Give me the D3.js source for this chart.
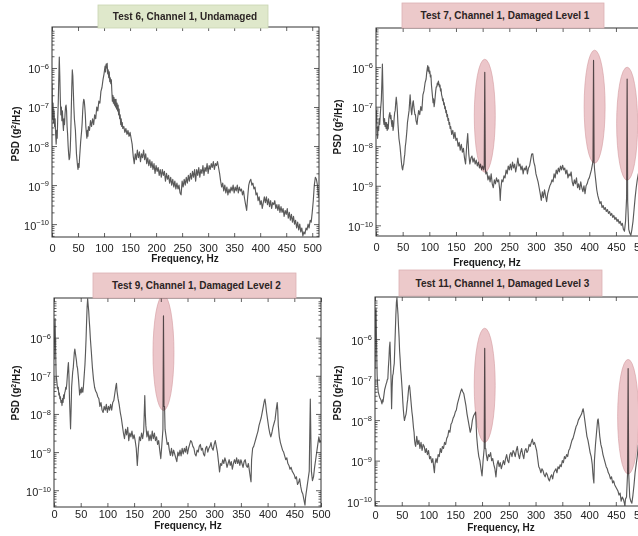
<!DOCTYPE html>
<html>
<head>
<meta charset="utf-8">
<script src="https://cdn.jsdelivr.net/npm/d3@7"></script>
<style>
  body { margin: 0; background: #fff; }
  svg { display: block; font-family: "Liberation Sans", Arial, Helvetica, sans-serif; }
</style>
</head>
<body>
<div id="chart"></div>
<script>
// tick values shared by all four panels
const freqTicks = [0, 50, 100, 150, 200, 250, 300, 350, 400, 450, 500];
const decadeTicks = [-10, -9, -8, -7, -6];

// spectra: [frequency Hz, log10 PSD (g^2/Hz)]
const test6 = [[0,-6.4],[1,-7.3],[2,-6.9],[3,-7.4],[4,-7.1],[5,-7.5],[6,-7.3],[7,-7.7],[8,-7.95],[9,-7.6],[10,-7.8],[11,-7.3],[12,-6.9],[13,-6.3],[14,-5.72],[15,-6.2],[16,-6.8],[17,-7.2],[18,-7.0],[19,-7.35],[20,-7.1],[21,-7.4],[22,-7.6],[23,-7.3],[24,-7.45],[25,-7.2],[26,-7.0],[27,-6.95],[28,-7.1],[29,-7.5],[30,-7.7],[31,-8.0],[32,-8.2],[33,-8.35],[34,-8.3],[35,-8.1],[36,-7.7],[37,-7.1],[38,-6.5],[39,-6.05],[40,-6.2],[41,-6.6],[42,-7.0],[43,-7.3],[44,-7.45],[45,-7.6],[46,-7.9],[47,-8.2],[48,-8.35],[49,-8.5],[50,-8.6],[51,-8.45],[52,-8.55],[53,-8.3],[54,-8.1],[55,-7.9],[56,-7.75],[57,-7.6],[58,-7.4],[59,-7.1],[60,-6.9],[61,-6.8],[62,-6.85],[63,-7.0],[64,-7.2],[65,-7.5],[66,-7.65],[67,-7.8],[68,-7.6],[69,-7.75],[70,-7.5],[72,-7.6],[74,-7.35],[76,-7.5],[78,-7.3],[80,-7.45],[82,-7.2],[84,-7.3],[86,-7.0],[88,-7.1],[90,-6.85],[92,-6.9],[94,-6.6],[96,-6.5],[98,-6.3],[100,-6.15],[101,-6.05],[102,-5.95],[103,-6.1],[104,-5.9],[105,-6.0],[106,-5.88],[107,-6.15],[108,-6.05],[109,-6.25],[110,-6.1],[111,-6.35],[112,-6.25],[113,-6.4],[114,-6.3],[115,-6.6],[116,-6.85],[117,-6.7],[118,-6.9],[119,-6.75],[120,-6.95],[121,-6.8],[122,-7.0],[123,-6.8],[124,-7.05],[125,-6.9],[126,-7.1],[127,-6.95],[128,-7.2],[129,-7.05],[130,-7.3],[131,-7.2],[132,-7.45],[133,-7.3],[134,-7.5],[135,-7.4],[136,-7.55],[138,-7.5],[140,-7.65],[142,-7.55],[144,-7.7],[146,-7.6],[148,-7.75],[150,-7.65],[152,-7.8],[154,-7.95],[156,-8.25],[158,-8.45],[160,-8.2],[162,-8.35],[164,-8.1],[166,-8.3],[168,-8.15],[170,-8.4],[172,-8.2],[174,-8.3],[176,-8.1],[178,-8.35],[180,-8.2],[182,-8.45],[184,-8.3],[186,-8.5],[188,-8.35],[190,-8.55],[192,-8.4],[194,-8.6],[196,-8.45],[198,-8.7],[200,-8.5],[202,-8.65],[204,-8.55],[206,-8.75],[208,-8.6],[210,-8.8],[212,-8.6],[214,-8.75],[216,-8.65],[218,-8.9],[220,-8.7],[222,-8.85],[224,-8.75],[226,-8.95],[228,-8.8],[230,-9.0],[232,-8.85],[234,-9.05],[236,-8.9],[238,-9.1],[240,-8.95],[242,-9.1],[244,-9.0],[246,-9.2],[248,-9.25],[250,-8.9],[252,-9.05],[254,-8.85],[256,-9.0],[258,-8.8],[260,-8.95],[262,-8.75],[264,-8.9],[266,-8.7],[268,-8.85],[270,-8.65],[272,-8.8],[274,-8.6],[276,-8.9],[278,-8.6],[280,-8.75],[282,-8.55],[284,-8.8],[286,-8.6],[288,-8.7],[290,-8.5],[292,-8.75],[294,-8.55],[296,-8.65],[298,-8.45],[300,-8.7],[302,-8.5],[304,-8.6],[306,-8.45],[308,-8.55],[310,-8.4],[312,-8.6],[314,-8.45],[316,-8.5],[318,-8.4],[320,-8.55],[322,-8.7],[324,-8.9],[326,-9.05],[328,-8.95],[330,-9.15],[332,-9.0],[334,-9.2],[336,-9.05],[338,-9.25],[340,-9.1],[342,-9.2],[344,-9.05],[346,-9.15],[348,-9.0],[350,-9.2],[352,-9.05],[354,-9.15],[356,-9.0],[358,-9.2],[360,-9.05],[362,-9.15],[364,-9.1],[366,-9.25],[368,-9.15],[370,-9.35],[372,-9.5],[374,-9.65],[376,-9.3],[378,-9.0],[380,-8.9],[382,-8.85],[384,-9.0],[386,-8.95],[388,-9.1],[390,-9.05],[392,-9.25],[394,-9.2],[396,-9.4],[398,-9.3],[400,-9.5],[402,-9.4],[404,-9.6],[406,-9.45],[408,-9.3],[410,-9.45],[412,-9.3],[414,-9.5],[416,-9.35],[418,-9.55],[420,-9.4],[422,-9.6],[424,-9.45],[426,-9.5],[428,-9.4],[430,-9.6],[432,-9.5],[434,-9.65],[436,-9.5],[438,-9.7],[440,-9.55],[442,-9.7],[444,-9.6],[446,-9.8],[448,-9.65],[450,-9.75],[452,-9.6],[454,-9.85],[456,-9.7],[458,-9.9],[460,-9.75],[462,-9.95],[464,-9.8],[466,-10.0],[468,-9.9],[470,-10.1],[472,-9.95],[474,-10.15],[476,-10.0],[478,-10.2],[480,-10.1],[482,-10.3],[484,-10.2],[486,-10.25],[488,-10.1],[490,-10.15],[492,-10.0],[494,-10.1],[496,-9.9],[498,-9.95],[500,-9.7],[502,-9.4],[504,-9.0],[506,-8.8],[508,-8.85],[510,-9.0],[512,-9.3]];

const test7 = [[0,-7.4],[1,-7.1],[2,-7.6],[3,-7.8],[4,-7.5],[5,-7.6],[6,-7.3],[7,-7.45],[8,-7.2],[9,-7.0],[10,-6.84],[11,-6.4],[12,-5.92],[13,-6.6],[14,-7.35],[15,-7.45],[16,-7.3],[17,-7.5],[18,-7.4],[19,-7.55],[20,-7.4],[21,-7.6],[22,-7.45],[23,-7.56],[24,-7.3],[25,-7.2],[26,-7.15],[27,-7.3],[28,-7.22],[29,-7.4],[30,-7.5],[31,-7.35],[32,-7.6],[33,-7.5],[34,-7.3],[35,-7.15],[36,-7.1],[37,-6.9],[38,-6.76],[39,-6.9],[40,-7.1],[41,-7.4],[42,-7.6],[43,-7.8],[44,-7.9],[45,-8.0],[46,-8.15],[47,-8.3],[48,-8.45],[49,-8.55],[50,-8.6],[51,-8.5],[52,-8.45],[53,-8.3],[54,-8.2],[55,-8.0],[56,-7.9],[57,-7.75],[58,-7.6],[59,-7.4],[60,-7.3],[61,-7.2],[62,-7.1],[63,-6.9],[64,-6.7],[65,-6.9],[66,-7.1],[67,-7.2],[68,-7.05],[69,-6.9],[70,-6.85],[71,-7.0],[72,-7.1],[73,-7.2],[74,-7.2],[75,-7.35],[76,-7.4],[77,-7.45],[78,-7.3],[79,-7.2],[80,-7.1],[82,-7.2],[84,-7.0],[86,-7.1],[88,-6.7],[90,-6.6],[92,-6.4],[94,-6.3],[95,-6.15],[96,-6.05],[97,-5.96],[98,-6.1],[99,-6.0],[100,-6.15],[101,-6.1],[102,-6.25],[103,-6.2],[104,-6.45],[105,-6.6],[106,-6.75],[107,-6.9],[108,-6.8],[109,-7.0],[110,-6.9],[111,-6.75],[112,-6.6],[113,-6.5],[114,-6.5],[115,-6.4],[116,-6.45],[117,-6.35],[118,-6.42],[119,-6.5],[120,-6.45],[121,-6.6],[122,-6.55],[123,-6.7],[124,-6.75],[125,-6.85],[126,-6.8],[127,-6.95],[128,-6.9],[129,-7.05],[130,-7.0],[131,-7.15],[132,-7.1],[133,-7.25],[134,-7.2],[135,-7.35],[136,-7.3],[137,-7.45],[138,-7.4],[139,-7.55],[140,-7.5],[142,-7.7],[144,-7.6],[146,-7.8],[148,-7.65],[150,-7.85],[152,-7.8],[154,-8.0],[156,-7.9],[158,-8.1],[160,-7.95],[162,-8.15],[164,-8.05],[166,-8.3],[168,-8.45],[170,-8.0],[172,-7.68],[174,-8.2],[176,-8.45],[178,-8.3],[180,-8.25],[182,-8.4],[184,-8.3],[186,-8.45],[188,-8.35],[190,-8.5],[192,-8.4],[194,-8.55],[196,-8.45],[198,-8.6],[200,-8.5],[202,-8.6],[203,-8.5],[204,-6.13],[205,-8.55],[206,-8.7],[208,-8.65],[210,-8.85],[212,-8.75],[214,-8.9],[216,-8.7],[218,-8.95],[220,-9.05],[222,-8.85],[224,-8.95],[226,-8.8],[228,-8.9],[230,-8.85],[232,-9.1],[233,-9.37],[234,-9.1],[236,-8.85],[238,-8.9],[240,-8.75],[242,-8.8],[244,-8.6],[246,-8.7],[248,-8.5],[250,-8.6],[252,-8.45],[254,-8.6],[256,-8.4],[258,-8.55],[260,-8.45],[262,-8.65],[264,-8.5],[266,-8.3],[268,-8.5],[270,-8.45],[272,-8.6],[274,-8.5],[276,-8.7],[278,-8.55],[280,-8.6],[282,-8.5],[284,-8.7],[286,-8.55],[288,-8.5],[290,-8.35],[292,-8.2],[294,-8.19],[296,-8.4],[298,-8.5],[300,-8.7],[302,-8.8],[304,-8.9],[306,-9.05],[308,-9.2],[310,-9.37],[312,-9.15],[314,-9.3],[316,-9.1],[318,-9.25],[320,-9.4],[322,-9.2],[324,-9.1],[326,-9.0],[328,-8.95],[330,-8.85],[332,-8.9],[334,-8.7],[336,-8.8],[338,-8.6],[340,-8.7],[342,-8.55],[344,-8.65],[346,-8.5],[348,-8.6],[350,-8.48],[352,-8.6],[354,-8.55],[356,-8.7],[358,-8.6],[360,-8.8],[362,-8.7],[364,-8.75],[366,-8.65],[368,-8.9],[370,-9.0],[372,-8.85],[374,-8.95],[376,-8.8],[378,-9.05],[380,-8.95],[382,-9.1],[384,-8.9],[386,-9.05],[388,-9.15],[390,-9.0],[392,-9.2],[394,-9.0],[396,-8.95],[398,-8.85],[400,-8.8],[402,-8.7],[404,-8.6],[406,-8.45],[407,-8.35],[408,-5.83],[409,-8.4],[410,-8.6],[412,-8.85],[414,-9.1],[416,-9.25],[418,-9.35],[420,-9.45],[422,-9.4],[424,-9.55],[426,-9.5],[428,-9.6],[430,-9.55],[432,-9.65],[434,-9.6],[436,-9.7],[438,-9.65],[440,-9.75],[442,-9.7],[444,-9.8],[446,-9.75],[448,-9.85],[450,-9.8],[452,-9.9],[454,-9.85],[456,-9.95],[458,-9.9],[460,-10.0],[462,-9.95],[464,-10.1],[466,-10.15],[468,-9.9],[470,-9.3],[471,-6.3],[472,-9.4],[474,-10.1],[476,-10.2],[478,-10.25],[480,-10.1],[482,-9.9],[484,-9.6],[486,-9.3],[488,-9.05],[490,-8.85],[492,-8.7],[494,-8.6]];

const test9 = [[0,-6.57],[1,-5.85],[2,-5.5],[3,-6.3],[4,-7.0],[5,-7.1],[6,-7.25],[7,-7.35],[8,-7.3],[9,-7.5],[10,-7.45],[11,-7.6],[12,-7.55],[13,-7.7],[14,-7.65],[15,-7.78],[16,-7.6],[17,-7.7],[18,-7.5],[19,-7.6],[20,-7.45],[21,-7.4],[22,-7.3],[23,-7.35],[24,-7.2],[25,-7.0],[26,-6.8],[27,-6.65],[28,-7.0],[29,-7.6],[30,-8.0],[31,-8.39],[32,-7.9],[33,-7.3],[34,-7.1],[35,-6.9],[36,-6.8],[37,-6.6],[38,-6.4],[39,-6.3],[40,-6.4],[41,-6.5],[42,-6.6],[43,-6.75],[44,-6.8],[45,-6.95],[46,-7.1],[47,-7.3],[48,-7.5],[49,-7.4],[50,-7.35],[51,-7.45],[52,-7.3],[53,-7.4],[54,-7.43],[55,-7.3],[56,-7.1],[57,-6.9],[58,-6.7],[59,-6.4],[60,-6.05],[61,-5.6],[62,-5.2],[63,-4.98],[64,-5.15],[65,-5.3],[66,-5.55],[67,-5.75],[68,-6.0],[69,-6.2],[70,-6.39],[71,-6.6],[72,-6.8],[73,-6.95],[74,-7.1],[75,-7.2],[76,-7.3],[78,-7.4],[80,-7.45],[82,-7.55],[84,-7.6],[86,-7.8],[88,-7.7],[90,-7.9],[92,-7.96],[94,-7.8],[96,-7.9],[98,-7.75],[100,-7.96],[102,-7.8],[104,-7.9],[106,-7.75],[108,-7.9],[110,-7.7],[112,-7.65],[114,-7.45],[116,-7.26],[117,-7.2],[118,-7.4],[120,-7.6],[122,-7.75],[124,-7.95],[126,-8.1],[128,-8.3],[130,-8.5],[132,-8.65],[134,-8.4],[136,-8.55],[138,-8.35],[140,-8.7],[142,-8.5],[144,-8.6],[146,-8.45],[148,-8.65],[150,-8.55],[152,-8.7],[154,-8.9],[156,-9.35],[158,-8.9],[160,-8.6],[162,-8.7],[164,-8.5],[166,-8.65],[168,-8.45],[169,-8.0],[170,-7.52],[171,-8.0],[172,-8.3],[174,-8.6],[176,-8.45],[178,-8.7],[180,-8.55],[182,-8.7],[184,-8.45],[186,-8.65],[188,-8.5],[190,-8.7],[192,-8.6],[194,-8.8],[196,-8.7],[198,-8.95],[200,-9.17],[202,-8.8],[204,-8.4],[205,-5.43],[206,-7.8],[207,-7.8],[208,-8.4],[210,-8.6],[212,-8.8],[214,-8.75],[216,-8.95],[218,-9.09],[220,-8.9],[222,-9.1],[224,-8.95],[226,-9.05],[228,-9.15],[230,-9.25],[232,-9.0],[234,-9.1],[236,-8.95],[238,-9.1],[240,-8.9],[242,-9.05],[244,-8.9],[246,-9.0],[248,-8.85],[250,-9.05],[252,-8.9],[254,-8.8],[256,-8.7],[258,-8.74],[260,-8.85],[262,-8.9],[264,-9.05],[266,-9.1],[268,-8.95],[270,-9.0],[272,-8.85],[274,-8.8],[276,-8.95],[278,-8.9],[280,-9.05],[282,-9.1],[284,-8.9],[286,-8.85],[288,-9.0],[290,-8.9],[292,-8.85],[294,-8.75],[296,-8.9],[298,-8.95],[300,-8.8],[302,-8.7],[304,-8.85],[306,-9.0],[308,-9.25],[310,-9.52],[312,-9.3],[314,-9.35],[316,-9.2],[318,-9.3],[320,-9.15],[322,-9.25],[324,-9.4],[326,-9.3],[328,-9.2],[330,-9.35],[332,-9.25],[334,-9.45],[336,-9.3],[338,-9.2],[340,-9.3],[342,-9.15],[344,-9.3],[346,-9.2],[348,-9.35],[350,-9.2],[352,-9.3],[354,-9.4],[356,-9.25],[358,-9.2],[360,-9.35],[362,-9.4],[364,-9.3],[366,-9.5],[368,-9.7],[369,-9.78],[370,-9.2],[372,-8.9],[374,-8.85],[376,-8.75],[378,-8.65],[380,-8.55],[382,-8.45],[384,-8.3],[386,-8.2],[388,-8.1],[390,-7.95],[392,-7.8],[394,-7.65],[395,-7.61],[396,-7.7],[398,-7.95],[400,-8.15],[402,-8.35],[404,-8.5],[406,-8.6],[408,-8.5],[410,-8.35],[412,-8.25],[414,-8.15],[416,-7.9],[418,-7.7],[419,-7.9],[420,-8.3],[422,-8.6],[424,-8.75],[426,-8.85],[428,-8.95],[430,-9.0],[432,-9.1],[434,-9.2],[436,-9.15],[438,-9.3],[440,-9.35],[442,-9.45],[444,-9.4],[446,-9.5],[448,-9.55],[450,-9.6],[452,-9.7],[454,-9.65],[456,-9.85],[458,-9.8],[460,-9.7],[462,-9.9],[464,-10.04],[466,-10.1],[468,-10.25],[470,-10.39],[471,-10.2],[472,-10.1],[474,-9.9],[476,-9.7],[478,-9.5],[479,-8.5],[480,-7.61],[481,-8.6],[482,-9.5],[484,-9.75],[486,-9.65],[488,-9.4],[490,-9.2],[492,-9.0],[494,-8.8],[496,-8.6],[498,-8.75],[500,-8.7]];

const test11 = [[0,-6.73],[1,-5.3],[2,-5.25],[3,-6.2],[4,-6.9],[5,-7.14],[6,-7.3],[7,-7.35],[8,-7.4],[9,-7.45],[10,-7.47],[11,-7.5],[12,-7.55],[13,-7.6],[14,-7.5],[15,-7.55],[16,-7.45],[17,-7.35],[18,-7.25],[19,-7.2],[20,-7.15],[21,-7.1],[22,-7.06],[23,-7.0],[24,-6.98],[25,-6.7],[26,-6.5],[27,-6.2],[28,-6.07],[29,-6.5],[30,-7.0],[31,-7.72],[32,-7.2],[33,-6.9],[34,-6.85],[35,-6.7],[36,-6.6],[37,-6.2],[38,-5.8],[39,-5.4],[40,-5.1],[41,-4.98],[42,-5.2],[43,-5.4],[44,-5.7],[45,-5.95],[46,-6.3],[47,-6.5],[48,-6.75],[49,-6.9],[50,-7.1],[51,-7.3],[52,-7.55],[53,-7.75],[54,-7.9],[55,-8.01],[56,-7.95],[57,-7.9],[58,-7.85],[59,-7.75],[60,-7.6],[61,-7.5],[62,-7.35],[63,-7.2],[64,-7.14],[65,-7.2],[66,-7.35],[67,-7.5],[68,-7.65],[69,-7.8],[70,-7.9],[71,-8.05],[72,-8.2],[73,-8.3],[74,-8.5],[75,-8.6],[76,-8.65],[78,-8.4],[80,-8.6],[82,-8.5],[84,-8.7],[86,-8.55],[88,-8.75],[90,-8.6],[92,-8.65],[94,-8.8],[96,-8.7],[98,-8.85],[100,-8.75],[102,-8.95],[104,-8.9],[106,-9.05],[108,-8.95],[110,-9.2],[111,-9.3],[112,-9.1],[114,-8.95],[116,-9.05],[118,-8.85],[120,-8.9],[122,-8.7],[124,-8.8],[126,-8.65],[128,-8.7],[130,-8.55],[132,-8.6],[134,-8.45],[136,-8.4],[138,-8.25],[140,-8.3],[142,-8.1],[144,-8.05],[146,-7.95],[148,-7.9],[150,-7.8],[152,-7.75],[154,-7.6],[156,-7.5],[158,-7.4],[160,-7.3],[162,-7.23],[164,-7.3],[166,-7.35],[168,-7.5],[170,-7.65],[172,-7.85],[174,-8.0],[176,-8.15],[178,-8.3],[180,-8.2],[182,-8.0],[184,-7.9],[186,-7.85],[188,-7.8],[190,-8.4],[192,-8.7],[194,-8.9],[196,-9.0],[198,-9.2],[200,-9.38],[202,-9.0],[204,-8.7],[205,-6.23],[206,-8.7],[207,-8.7],[208,-8.85],[210,-9.0],[212,-8.85],[214,-8.9],[216,-8.8],[218,-9.0],[220,-8.95],[222,-9.1],[224,-9.2],[226,-9.4],[228,-9.1],[230,-9.0],[232,-9.15],[234,-9.05],[236,-9.2],[238,-9.1],[240,-9.0],[242,-9.1],[244,-8.95],[246,-8.85],[248,-9.0],[250,-9.05],[252,-8.85],[254,-8.8],[256,-8.9],[258,-8.75],[260,-8.8],[262,-8.9],[264,-8.75],[266,-8.65],[268,-8.85],[270,-8.95],[272,-8.8],[274,-8.7],[276,-8.85],[278,-8.95],[280,-8.75],[282,-8.7],[284,-8.8],[286,-8.75],[288,-8.6],[290,-8.65],[292,-8.55],[294,-8.47],[296,-8.6],[298,-8.55],[300,-8.65],[302,-8.75],[304,-8.95],[306,-9.15],[308,-9.2],[310,-9.3],[312,-9.2],[314,-9.25],[316,-9.35],[318,-9.4],[320,-9.3],[322,-9.35],[324,-9.45],[326,-9.5],[328,-9.4],[330,-9.35],[332,-9.45],[334,-9.3],[336,-9.25],[338,-9.2],[340,-9.3],[342,-9.15],[344,-9.2],[346,-9.1],[348,-9.15],[350,-9.0],[352,-9.05],[354,-8.9],[356,-8.95],[358,-8.85],[360,-8.9],[362,-8.75],[364,-8.7],[366,-8.6],[368,-8.5],[370,-8.45],[372,-8.35],[374,-8.25],[376,-8.15],[378,-8.1],[380,-8.0],[382,-7.95],[384,-7.9],[386,-7.85],[388,-7.75],[389,-7.72],[390,-7.8],[392,-8.0],[394,-8.2],[396,-8.4],[398,-8.5],[400,-8.65],[402,-8.8],[404,-8.9],[406,-9.1],[407,-9.3],[408,-9.45],[409,-9.55],[410,-9.0],[412,-8.6],[414,-8.3],[416,-8.0],[417,-7.97],[418,-8.1],[420,-8.4],[422,-8.6],[424,-8.7],[426,-8.85],[428,-8.95],[430,-9.05],[432,-9.15],[434,-9.2],[436,-9.3],[438,-9.35],[440,-9.45],[442,-9.4],[444,-9.55],[446,-9.5],[448,-9.6],[450,-9.65],[452,-9.7],[454,-9.75],[456,-9.85],[458,-9.8],[460,-10.0],[462,-9.9],[464,-9.95],[466,-10.05],[467,-10.12],[468,-9.95],[470,-9.9],[472,-9.3],[473,-6.73],[474,-9.3],[476,-9.9],[478,-10.0],[480,-10.05],[482,-9.85],[484,-9.6],[486,-9.3],[488,-9.1],[490,-8.9],[492,-8.63],[494,-8.5]];

// highlighted damage peaks: centre frequency and log10 extent of each ellipse
const test7Marks = [{ f: 204, top: -5.8, bottom: -8.66 }, { f: 410, top: -5.57, bottom: -8.43 }, { f: 471, top: -6.0, bottom: -8.86 }];
const test9Marks = [{ f: 205, top: -4.88, bottom: -7.91 }];
const test11Marks = [{ f: 205, top: -5.73, bottom: -8.55 }, { f: 473, top: -6.5, bottom: -9.33 }];

const titles = ["Test 6, Channel 1, Undamaged", "Test 7, Channel 1, Damaged Level 1", "Test 9, Channel 1, Damaged Level 2", "Test 11, Channel 1, Damaged Level 3"];

const green = { fill: "#dfe8cb", stroke: "#c8d5b1" };
const pink = { fill: "#ecc9ca", stroke: "#dcb1b3" };

// layout of each sub-plot (pixels); the two right-hand plots run off the page edge
const panels = [
    { title: titles[0], data: test6, marks: [], color: green,
      frame: { x: 52, y: 27, w: 267, h: 210 }, xMax: 513, yLog: [-10.33, -4.95], tickPad: 7,
      box: { x: 98, y: 5, w: 170, h: 23 }, xLabel: [185, 262], yLabel: [19, 134] },
    { title: titles[1], data: test7, marks: test7Marks, color: pink,
      frame: { x: 376, y: 28, w: 273, h: 208 }, xMax: 512, yLog: [-10.27, -5.01], tickPad: 7,
      box: { x: 402, y: 3, w: 202, h: 25 }, xLabel: [487, 266], yLabel: [341, 127] },
    { title: titles[2], data: test9, marks: test9Marks, color: pink,
      frame: { x: 54, y: 298, w: 267, h: 209 }, xMax: 500, yLog: [-10.44, -4.96], tickPad: 3,
      box: { x: 93, y: 273, w: 203, h: 25 }, xLabel: [188, 529], yLabel: [19, 393] },
    { title: titles[3], data: test11, marks: test11Marks, color: pink,
      frame: { x: 375, y: 297, w: 274, h: 209 }, xMax: 512, yLog: [-10.12, -4.96], tickPad: 5,
      box: { x: 399, y: 270, w: 203, h: 26 }, xLabel: [501, 531], yLabel: [341, 393] }
];

const svg = d3.select("#chart").append("svg")
    .attr("width", 638)
    .attr("height", 536);

function minorTicks(lo, hi) {
    const out = [];
    for (let d = Math.floor(lo); d <= Math.ceil(hi); d++) {
        for (let k = 2; k <= 9; k++) {
            const v = Math.log10(k) + d;
            if (v > lo && v < hi) out.push(Math.pow(10, v));
        }
    }
    return out;
}

panels.forEach((p, i) => {
    const f = p.frame;
    const x = d3.scaleLinear().domain([0, p.xMax]).range([f.x, f.x + f.w]);
    const y = d3.scaleLog()
        .domain([Math.pow(10, p.yLog[0]), Math.pow(10, p.yLog[1])])
        .range([f.y + f.h, f.y]);

    const g = svg.append("g");

    svg.append("clipPath").attr("id", "clip" + i)
        .append("rect").attr("x", f.x).attr("y", f.y).attr("width", f.w).attr("height", f.h);

    const line = d3.line()
        .x(d => x(d[0]))
        .y(d => y(Math.pow(10, d[1])));

    g.append("path")
        .datum(p.data)
        .attr("d", line)
        .attr("fill", "none")
        .attr("stroke", "#5a5a5a")
        .attr("stroke-width", 1.15)
        .attr("stroke-linejoin", "round")
        .attr("clip-path", `url(#clip${i})`);

    // axes: inward ticks on all four sides, MATLAB style
    const decades = decadeTicks.map(e => Math.pow(10, e));
    const minors = minorTicks(p.yLog[0], p.yLog[1]);

    const xb = g.append("g")
        .attr("transform", `translate(0,${f.y + f.h})`)
        .call(d3.axisBottom(x).tickValues(freqTicks).tickSize(-4).tickPadding(p.tickPad));
    g.append("g")
        .attr("transform", `translate(0,${f.y})`)
        .call(d3.axisTop(x).tickValues(freqTicks).tickSize(-4).tickFormat(""));

    const yl = g.append("g")
        .attr("transform", `translate(${f.x},0)`)
        .call(d3.axisLeft(y).tickValues(decades).tickSize(-5).tickPadding(3).tickFormat(""));
    g.append("g")
        .attr("transform", `translate(${f.x},0)`)
        .call(d3.axisLeft(y).tickValues(minors).tickSize(-2.5).tickFormat(""));
    g.append("g")
        .attr("transform", `translate(${f.x + f.w},0)`)
        .call(d3.axisRight(y).tickValues(decades).tickSize(-5).tickFormat(""));
    g.append("g")
        .attr("transform", `translate(${f.x + f.w},0)`)
        .call(d3.axisRight(y).tickValues(minors).tickSize(-2.5).tickFormat(""));

    g.selectAll(".domain").remove();
    g.selectAll(".tick line").attr("stroke", "#3a3a3a").attr("stroke-width", 0.8);

    xb.selectAll(".tick text")
        .attr("font-size", 11)
        .attr("fill", "#222")
        .attr("font-family", null);

    yl.selectAll(".tick text")
        .attr("font-size", 11)
        .attr("fill", "#222")
        .attr("font-family", null)
        .attr("dy", "0.45em")
        .each(function (d) {
            const t = d3.select(this);
            t.append("tspan").text("10");
            t.append("tspan")
                .attr("dy", "-0.55em")
                .attr("font-size", 7.5)
                .text("\u2212" + Math.round(-Math.log10(d)));
        });

    g.append("rect")
        .attr("x", f.x).attr("y", f.y).attr("width", f.w).attr("height", f.h)
        .attr("fill", "none")
        .attr("stroke", "#333")
        .attr("stroke-width", 1);

    // highlighted peaks
    g.selectAll("ellipse")
        .data(p.marks)
        .join("ellipse")
        .attr("cx", d => x(d.f))
        .attr("cy", d => (y(Math.pow(10, d.top)) + y(Math.pow(10, d.bottom))) / 2)
        .attr("rx", 10.5)
        .attr("ry", d => (y(Math.pow(10, d.bottom)) - y(Math.pow(10, d.top))) / 2)
        .attr("fill", "#d98d95")
        .attr("fill-opacity", 0.5)
        .attr("stroke", "#d49aa0")
        .attr("stroke-width", 0.6)
        .style("mix-blend-mode", "multiply");

    // labels
    g.append("text")
        .attr("x", p.xLabel[0]).attr("y", p.xLabel[1])
        .attr("text-anchor", "middle")
        .attr("font-size", 10)
        .attr("font-weight", "bold")
        .attr("fill", "#1a1a1a")
        .text("Frequency, Hz");

    const yt = g.append("text")
        .attr("transform", `translate(${p.yLabel[0]},${p.yLabel[1]}) rotate(-90)`)
        .attr("text-anchor", "middle")
        .attr("font-size", 10)
        .attr("font-weight", "bold")
        .attr("fill", "#1a1a1a");
    yt.append("tspan").text("PSD (g");
    yt.append("tspan").attr("dy", "-0.4em").attr("font-size", 7).text("2");
    yt.append("tspan").attr("dy", "0.4em").text("/Hz)");

    // title box
    const b = p.box;
    svg.append("rect")
        .attr("x", b.x).attr("y", b.y).attr("width", b.w).attr("height", b.h)
        .attr("fill", p.color.fill)
        .attr("stroke", p.color.stroke)
        .attr("stroke-width", 0.8);
    svg.append("text")
        .attr("x", b.x + b.w / 2 + 2).attr("y", b.y + b.h / 2 + 3.5)
        .attr("text-anchor", "middle")
        .attr("font-size", 10)
        .attr("font-weight", "bold")
        .attr("fill", "#2b2424")
        .text(p.title);
});
</script>
</body>
</html>
